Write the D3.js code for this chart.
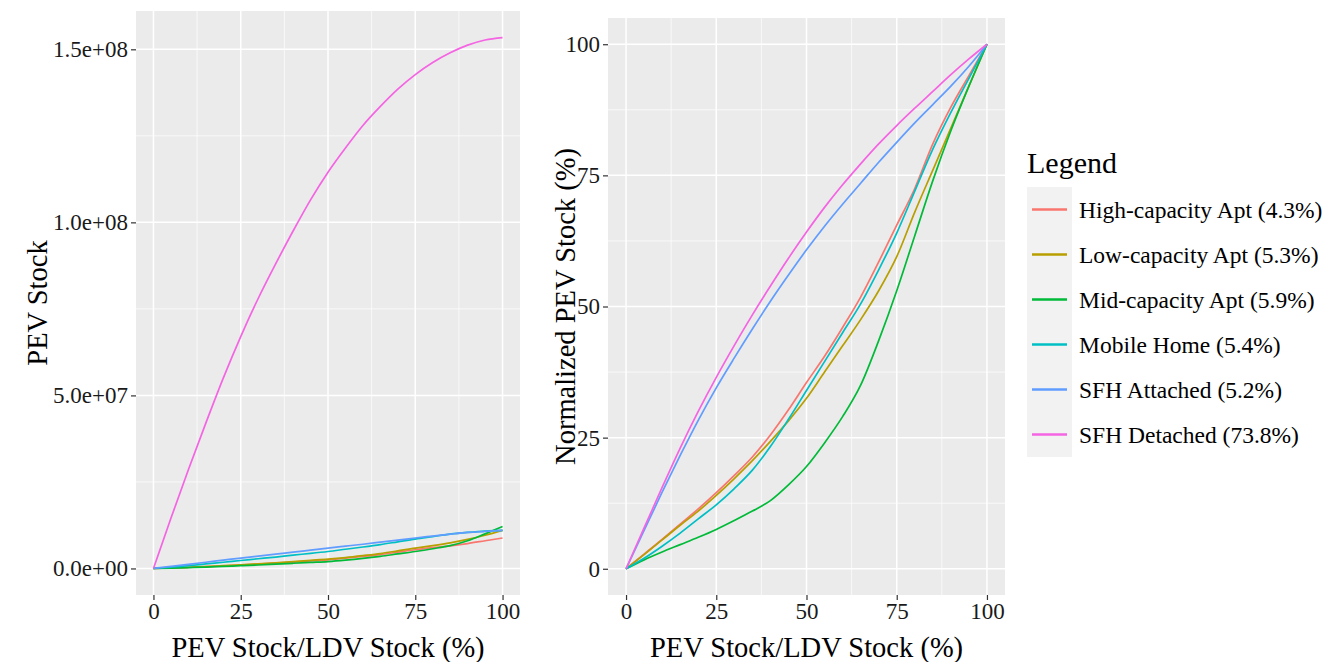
<!DOCTYPE html>
<html>
<head>
<meta charset="utf-8">
<script src="https://cdn.jsdelivr.net/npm/d3@7"></script>
<style>
  body { margin: 0; background: #fff; }
  svg { display: block; font-family: "Liberation Serif", "Times New Roman", serif; }
</style>
</head>
<body>
<svg id="chart" width="1339" height="662"></svg>
<script>
// share of LDV stock that is PEV (%), same grid for every series
const pct = [0, 5, 10, 15, 20, 25, 30, 35, 40, 45, 50, 55, 60, 65, 70, 75, 80, 85, 90, 95, 100];

const categories = [
    'High-capacity Apt (4.3%)',
    'Low-capacity Apt (5.3%)',
    'Mid-capacity Apt (5.9%)',
    'Mobile Home (5.4%)',
    'SFH Attached (5.2%)',
    'SFH Detached (73.8%)'
];
const colors = ['#F8766D', '#B79F00', '#00BA38', '#00BFC4', '#619CFF', '#F564E3'];

// left panel: absolute PEV stock
const stockHighApt = [0, 0.15e6, 0.33e6, 0.52e6, 0.75e6, 1.0e6, 1.25e6, 1.55e6, 1.85e6, 2.15e6, 2.5e6, 2.95e6, 3.45e6, 4.0e6, 4.7e6, 5.4e6, 6.0e6, 6.55e6, 7.2e6, 8.0e6, 8.8e6];
const stockLowApt = [0, 0.15e6, 0.35e6, 0.55e6, 0.8e6, 1.06e6, 1.35e6, 1.65e6, 2.0e6, 2.35e6, 2.7e6, 3.15e6, 3.7e6, 4.3e6, 5.1e6, 5.9e6, 6.6e6, 7.4e6, 8.4e6, 9.6e6, 1.1e7];
const stockMidApt = [0, 0.1e6, 0.25e6, 0.4e6, 0.6e6, 0.8e6, 1.0e6, 1.25e6, 1.5e6, 1.75e6, 2.0e6, 2.4e6, 2.9e6, 3.5e6, 4.2e6, 4.9e6, 5.7e6, 6.6e6, 8.0e6, 1.0e7, 1.21e7];
const stockMobile = [0, 0.35e6, 0.8e6, 1.3e6, 1.8e6, 2.3e6, 2.8e6, 3.3e6, 3.85e6, 4.35e6, 4.9e6, 5.55e6, 6.2e6, 6.9e6, 7.7e6, 8.5e6, 9.2e6, 9.9e6, 1.04e7, 1.08e7, 1.1e7];
const stockSfhAtt = [0, 0.6e6, 1.2e6, 1.8e6, 2.4e6, 3.0e6, 3.55e6, 4.15e6, 4.7e6, 5.3e6, 5.9e6, 6.45e6, 7.0e6, 7.6e6, 8.2e6, 8.8e6, 9.35e6, 9.9e6, 1.04e7, 1.07e7, 1.1e7];
const stockSfhDet = [0, 1.45e7, 2.85e7, 4.2e7, 5.5e7, 6.7e7, 7.8e7, 8.8e7, 9.75e7, 1.065e8, 1.145e8, 1.215e8, 1.28e8, 1.335e8, 1.385e8, 1.427e8, 1.462e8, 1.49e8, 1.512e8, 1.527e8, 1.534e8];

// right panel: normalized PEV stock (%)
const normHighApt = [0, 2.8, 5.6, 8.5, 11.4, 14.5, 17.8, 21.3, 25.5, 30.3, 35.5, 40.5, 46, 51.8, 58.5, 65.5, 72.5, 81, 88, 94, 100];
const normLowApt = [0, 2.7, 5.5, 8.3, 11, 14, 17.2, 20.6, 24.3, 28.2, 32.5, 37.5, 42.5, 47.5, 53, 59.5, 68, 76, 84, 92, 100];
const normMidApt = [0, 1.7, 3.2, 4.6, 6, 7.5, 9.2, 11, 13, 16, 19.5, 24, 29, 35, 43.5, 53, 63.5, 74, 83.5, 92, 100];
const normMobile = [0, 2, 4.3, 6.8, 9.5, 12.2, 15.3, 18.8, 23.3, 28.5, 34, 39.5, 45, 50.5, 57, 64, 72, 80, 87, 93.5, 100];
const normSfhAtt = [0, 7.3, 14.6, 21.6, 28.3, 34.5, 40.2, 45.7, 51, 56, 60.8, 65.3, 69.5, 73.5, 77.5, 81.3, 85, 88.5, 92, 95.8, 100];
const normSfhDet = [0, 7.8, 15.5, 23, 30, 36.5, 42.6, 48.4, 53.9, 59.2, 64.2, 68.9, 73.2, 77.2, 81, 84.5, 87.8, 91, 94.2, 97.2, 100];

const stockSeries = [stockHighApt, stockLowApt, stockMidApt, stockMobile, stockSfhAtt, stockSfhDet];
const normSeries = [normHighApt, normLowApt, normMidApt, normMobile, normSfhAtt, normSfhDet];

const xTicks = [0, 25, 50, 75, 100];
const xMinor = [12.5, 37.5, 62.5, 87.5];
const stockTicks = [0, 5e7, 1e8, 1.5e8];
const stockMinor = [2.5e7, 7.5e7, 1.25e8];
const normTicks = [0, 25, 50, 75, 100];
const normMinor = [12.5, 37.5, 62.5, 87.5];

const svg = d3.select('#chart');

// 1.5e+08 style labels like R prints them
function sci(d) {
    const parts = d.toExponential(1).split('e');
    const sign = parts[1][0];
    const exp = parts[1].slice(1).padStart(2, '0');
    return parts[0] + 'e' + sign + exp;
}

function drawPanel(opt) {
    const { left, right, top, bottom, x, y, yTicks, yMinor, yFormat, series, yTitle, yTitleX } = opt;
    const g = svg.append('g');

    // panel background
    g.append('rect')
        .attr('x', left).attr('y', top)
        .attr('width', right - left).attr('height', bottom - top)
        .attr('fill', '#EBEBEB');

    // grid lines
    g.selectAll('.xminor').data(xMinor).join('line')
        .attr('x1', d => x(d)).attr('x2', d => x(d))
        .attr('y1', top).attr('y2', bottom)
        .attr('stroke', '#fff').attr('stroke-width', 0.7);
    g.selectAll('.yminor').data(yMinor).join('line')
        .attr('y1', d => y(d)).attr('y2', d => y(d))
        .attr('x1', left).attr('x2', right)
        .attr('stroke', '#fff').attr('stroke-width', 0.7);
    g.selectAll('.xmajor').data(xTicks).join('line')
        .attr('x1', d => x(d)).attr('x2', d => x(d))
        .attr('y1', top).attr('y2', bottom)
        .attr('stroke', '#fff').attr('stroke-width', 1.5);
    g.selectAll('.ymajor').data(yTicks).join('line')
        .attr('y1', d => y(d)).attr('y2', d => y(d))
        .attr('x1', left).attr('x2', right)
        .attr('stroke', '#fff').attr('stroke-width', 1.5);

    // the lines, drawn in legend order so pink ends on top
    const line = d3.line()
        .x((d, i) => x(pct[i]))
        .y(d => y(d))
        .curve(d3.curveMonotoneX);
    g.selectAll('.series').data(series).join('path')
        .attr('d', d => line(d))
        .attr('fill', 'none')
        .attr('stroke', (d, i) => colors[i])
        .attr('stroke-width', 1.7);

    // axes
    const xAxis = g.append('g')
        .attr('transform', `translate(0,${bottom})`)
        .call(d3.axisBottom(x).tickValues(xTicks).tickSize(5).tickPadding(3));
    const yAxis = g.append('g')
        .attr('transform', `translate(${left},0)`)
        .call(d3.axisLeft(y).tickValues(yTicks).tickFormat(yFormat).tickSize(5).tickPadding(3));
    [xAxis, yAxis].forEach(a => {
        a.select('.domain').remove();
        a.selectAll('.tick line').attr('stroke', '#333').attr('stroke-width', 1.2);
        a.selectAll('.tick text')
            .attr('fill', '#1a1a1a')
            .style('font-family', '"Liberation Serif", serif')
            .style('font-size', '23px');
    });

    // axis titles
    g.append('text')
        .attr('x', (left + right) / 2).attr('y', 657)
        .attr('text-anchor', 'middle')
        .style('font-size', '28.5px')
        .text('PEV Stock/LDV Stock (%)');
    g.append('text')
        .attr('transform', `translate(${yTitleX},${(top + bottom) / 2}) rotate(-90)`)
        .attr('text-anchor', 'middle')
        .attr('dominant-baseline', 'central')
        .style('font-size', '28.5px')
        .text(yTitle);
}

const stockMax = d3.max(stockSeries, s => d3.max(s));

drawPanel({
    left: 136, right: 520, top: 11, bottom: 595,
    x: d3.scaleLinear().domain([-5, 105]).range([136, 520]),
    y: d3.scaleLinear().domain([-0.05 * stockMax, 1.05 * stockMax]).range([595, 11]),
    yTicks: stockTicks, yMinor: stockMinor, yFormat: sci,
    series: stockSeries, yTitle: 'PEV Stock', yTitleX: 37
});

drawPanel({
    left: 608, right: 1005, top: 18, bottom: 595,
    x: d3.scaleLinear().domain([-5, 105]).range([608, 1005]),
    y: d3.scaleLinear().domain([-5, 105]).range([595, 18]),
    yTicks: normTicks, yMinor: normMinor, yFormat: d3.format('d'),
    series: normSeries, yTitle: 'Normalized PEV Stock (%)', yTitleX: 565
});

// legend
const legend = svg.append('g').attr('transform', 'translate(1027,0)');
legend.append('text')
    .attr('x', 0).attr('y', 173)
    .style('font-size', '30px')
    .text('Legend');
const keyY = d3.scaleBand().domain(categories).range([187, 457]);
const rows = legend.selectAll('.row').data(categories).join('g')
    .attr('transform', d => `translate(0,${keyY(d)})`);
rows.append('rect')
    .attr('width', 45).attr('height', keyY.bandwidth())
    .attr('fill', '#F2F2F2');
rows.append('line')
    .attr('x1', 5).attr('x2', 40)
    .attr('y1', keyY.bandwidth() / 2).attr('y2', keyY.bandwidth() / 2)
    .attr('stroke', (d, i) => colors[i])
    .attr('stroke-width', 2.6);
rows.append('text')
    .attr('x', 52).attr('y', keyY.bandwidth() / 2)
    .attr('dominant-baseline', 'central')
    .style('font-size', '23.5px')
    .text(d => d);
</script>
</body>
</html>
